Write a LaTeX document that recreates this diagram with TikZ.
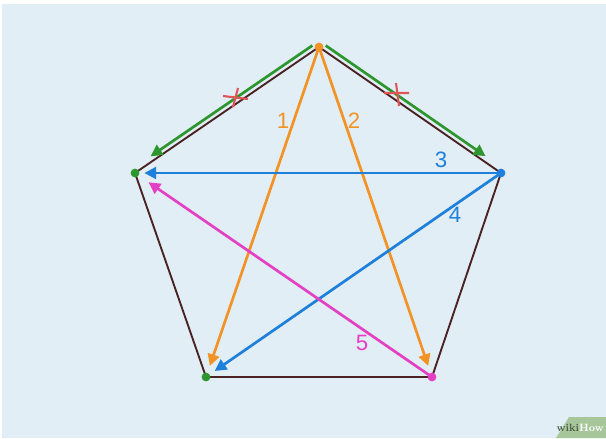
\documentclass[tikz,border=0pt]{standalone}
\usepackage{fontspec}
\setsansfont{Liberation Sans}
\usetikzlibrary{arrows.meta}
\definecolor{bgblue}{HTML}{E1EEF5}
\definecolor{edgebrown}{HTML}{4A2222}
\definecolor{steporange}{HTML}{F39325}
\definecolor{stepgreen}{HTML}{2E962E}
\definecolor{stepblue}{HTML}{1F80DB}
\definecolor{steppink}{HTML}{E440C4}
\definecolor{crossred}{HTML}{E05656}
\definecolor{wikigreen}{HTML}{A7C79B}

\begin{document}
\begin{tikzpicture}[x=0.03cm, y=-0.03cm,
    edge/.style={edgebrown, line width=1.6pt},
    move/.style={line width=2.3pt, -{Triangle[length=10pt,width=10pt]}},
    vtx/.style={circle, inner sep=0pt, minimum size=7.5pt},
    num/.style={font=\fontsize{19}{19}\selectfont\sffamily},
    crossmark/.style={crossred, line width=1.8pt}]
  \useasboundingbox (0,0) rectangle (606,438);
  \fill[bgblue] (2,4) rectangle (606,438);

  % corners of the pentagon
  \coordinate (T) at (319,47);
  \coordinate (L) at (135,173);
  \coordinate (R) at (501,173);
  \coordinate (BL) at (206,377);
  \coordinate (BR) at (432,377);

  \draw[edge] (T) -- (R) -- (BR) -- (BL) -- (L) -- cycle;

  % the two forbidden neighbour moves
  \draw[move, stepgreen, shorten <=4pt, shorten >=19pt]
    ([shift={(-2.8,-4.1)}]T) -- ([shift={(-2.8,-4.1)}]L);
  \draw[move, stepgreen, shorten <=4pt, shorten >=19pt]
    ([shift={(2.9,-4.1)}]T) -- ([shift={(2.9,-4.1)}]R);
  \draw[crossmark] (223,96) -- (248,99) (238,88) -- (233,107);
  \draw[crossmark] (384,93) -- (409,93) (396,83) -- (399,106);

  % the star of allowed moves
  \draw[move, steporange, shorten >=10pt] (T) -- (BL);
  \draw[move, steporange, shorten >=10pt] (T) -- (BR);
  \draw[move, stepblue, shorten >=8pt] (R) -- (L);
  \draw[move, stepblue, shorten >=9pt] (R) -- (BL);
  \draw[move, steppink, shorten >=14pt] (BR) -- (L);

  \node[num, text=steporange] (n1) at (283,121) {1};
  \node[num, text=steporange] (n2) at (354,121) {2};
  \node[num, text=stepblue] (n3) at (441,160) {3};
  \node[num, text=stepblue] (n4) at (455,215) {4};
  \node[num, text=steppink] (n5) at (362,343) {5};

  \node[vtx, fill=steporange] (t) at (T) {};
  \node[vtx, fill=stepgreen] (l) at (L) {};
  \node[vtx, fill=stepblue] (r) at (R) {};
  \node[vtx, fill=stepgreen] (bl) at (BL) {};
  \node[vtx, fill=steppink] (br) at (BR) {};

  % watermark tab
  \fill[wikigreen] (556,438) -- (569,417) -- (606,417) -- (606,438) -- cycle;
  \node[font=\fontsize{9}{9}\selectfont\rmfamily\bfseries, inner sep=0pt, anchor=east] (wm) at (604,428)
    {\textcolor{black!55!wikigreen}{wiki}\textcolor{white}{How}};
\end{tikzpicture}
\end{document}
